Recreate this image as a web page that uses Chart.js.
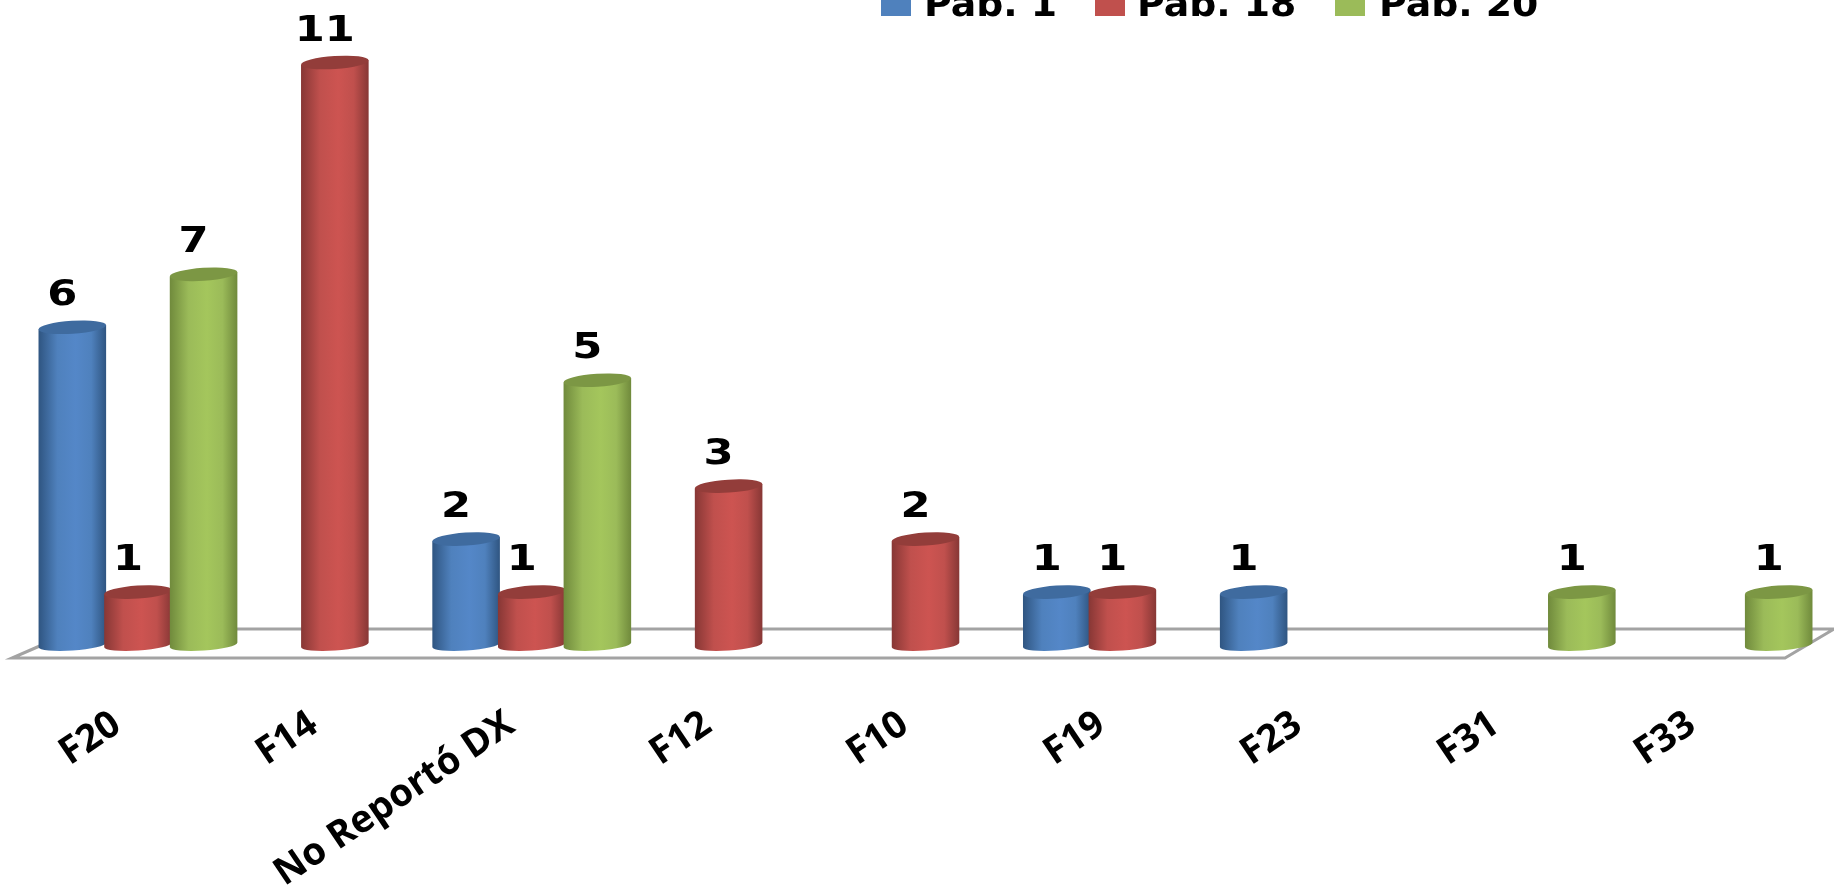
<!DOCTYPE html>
<html>
<head>
<meta charset="utf-8">
<style>
  html, body { margin: 0; padding: 0; background: #fff; overflow: hidden; }
  #wrap { width: 1834px; height: 888px; }
</style>
<script src="https://cdn.jsdelivr.net/npm/chart.js@4"></script>
</head>
<body>
<div id="wrap"><canvas id="grafico"></canvas></div>
<script>
const categorias = ["F20", "F14", "No Reportó DX", "F12", "F10", "F19", "F23", "F31", "F33"];
const pab1 = [6, null, 2, null, null, 1, 1, null, null];
const pab18 = [1, 11, 1, 3, 2, 1, null, null, null];
const pab20 = [7, null, 5, null, null, null, null, 1, 1];
const nomes = ["Pab. 1", "Pab. 18", "Pab. 20"];

const cores = ["#4f81bd", "#c0504d", "#9bbb59"];
const bordas = ["#2f5581", "#873735", "#708a3c"];
const centros = ["#5487c8", "#cd5451", "#a4c65c"];
const tampas = ["#3f6b9f", "#933d3a", "#7c9744"];

const fonte = "bold 36px 'DejaVu Sans'";
const ALTURA_ELIPSE = 6.5;
const INCLINACAO = -0.065;

// Piso do gráfico (linhas cinzas abaixo das barras)
const piso = {
  id: "piso",
  beforeDatasetsDraw(chart) {
    const { ctx } = chart;
    const yBase = chart.scales.y.getPixelForValue(0);
    ctx.save();
    ctx.strokeStyle = "#a3a3a3";
    ctx.lineWidth = 3;
    ctx.beginPath();
    ctx.moveTo(60, yBase - 16);
    ctx.lineTo(1834, yBase - 16);
    ctx.moveTo(42, yBase);
    ctx.lineTo(12, yBase + 13);
    ctx.lineTo(1785, yBase + 13);
    ctx.lineTo(1834, yBase - 16);
    ctx.stroke();
    ctx.restore();
  }
};

// Desenha cada barra como cilindro
const cilindros = {
  id: "cilindros",
  beforeDatasetDraw() {
    return false;
  },
  afterDatasetsDraw(chart) {
    const { ctx } = chart;
    ctx.save();
    chart.data.datasets.forEach((dataset, d) => {
      chart.getDatasetMeta(d).data.forEach((barra, i) => {
        if (dataset.data[i] === null) return;
        const rx = barra.width * 0.515;
        const grad = ctx.createLinearGradient(barra.x - rx, 0, barra.x + rx, 0);
        grad.addColorStop(0, bordas[d]);
        grad.addColorStop(0.28, cores[d]);
        grad.addColorStop(0.55, centros[d]);
        grad.addColorStop(0.78, cores[d]);
        grad.addColorStop(1, bordas[d]);

        const dy = Math.sin(INCLINACAO) * rx;
        ctx.fillStyle = grad;
        ctx.beginPath();
        ctx.moveTo(barra.x - rx, barra.y - dy);
        ctx.lineTo(barra.x + rx, barra.y + dy);
        ctx.lineTo(barra.x + rx, barra.base + dy);
        ctx.ellipse(barra.x, barra.base, rx, 5.5, INCLINACAO, 0, Math.PI);
        ctx.closePath();
        ctx.fill();

        ctx.fillStyle = tampas[d];
        ctx.beginPath();
        ctx.ellipse(barra.x, barra.y, rx, ALTURA_ELIPSE, INCLINACAO, 0, Math.PI * 2);
        ctx.fill();
      });
    });

    // Rótulos de valor (esticados na horizontal, como no original)
    ctx.fillStyle = "#000";
    ctx.font = fonte;
    ctx.textAlign = "center";
    ctx.textBaseline = "alphabetic";
    chart.data.datasets.forEach((dataset, d) => {
      chart.getDatasetMeta(d).data.forEach((barra, i) => {
        if (dataset.data[i] === null) return;
        ctx.save();
        ctx.translate(barra.x - 10, barra.y - 22);
        ctx.scale(1.2, 1);
        ctx.fillText(String(dataset.data[i]), 0, 0);
        ctx.restore();
      });
    });
    ctx.restore();
  }
};

// Legenda cortada no topo, como no original
const legenda = {
  id: "legenda",
  afterDraw(chart) {
    const { ctx } = chart;
    const quadrados = [881, 1095, 1335];
    const textos = [924, 1137, 1379];
    ctx.save();
    ctx.font = fonte;
    ctx.textAlign = "left";
    ctx.textBaseline = "alphabetic";
    nomes.forEach((nome, i) => {
      ctx.fillStyle = cores[i];
      ctx.fillRect(quadrados[i], 0, 30, 16);
      ctx.fillStyle = "#000";
      ctx.save();
      ctx.translate(textos[i], 16);
      ctx.scale(1.05, 1);
      ctx.fillText(nome, 0, 0);
      ctx.restore();
    });
    ctx.restore();
  }
};

new Chart(document.getElementById("grafico"), {
  type: "bar",
  data: {
    labels: categorias,
    datasets: [
      { label: nomes[0], data: pab1, backgroundColor: cores[0] },
      { label: nomes[1], data: pab18, backgroundColor: cores[1] },
      { label: nomes[2], data: pab20, backgroundColor: cores[2] }
    ]
  },
  options: {
    responsive: true,
    maintainAspectRatio: false,
    animation: false,
    datasets: { bar: { categoryPercentage: 1, barPercentage: 1 } },
    layout: { padding: { left: 39.5, right: 22.5, top: 62.5, bottom: 0 } },
    plugins: {
      legend: { display: false },
      tooltip: { enabled: false }
    },
    scales: {
      x: {
        grid: { display: false },
        border: { display: false },
        afterFit(axis) { axis.height = 243; },
        ticks: {
          autoSkip: false,
          minRotation: 34,
          maxRotation: 34,
          padding: 49,
          labelOffset: -21,
          color: "#000",
          font: { family: "'Open Sans'", size: 38, weight: "bold" }
        }
      },
      y: {
        display: false,
        min: 0,
        max: 11
      }
    }
  },
  plugins: [piso, cilindros, legenda]
});
</script>
</body>
</html>
